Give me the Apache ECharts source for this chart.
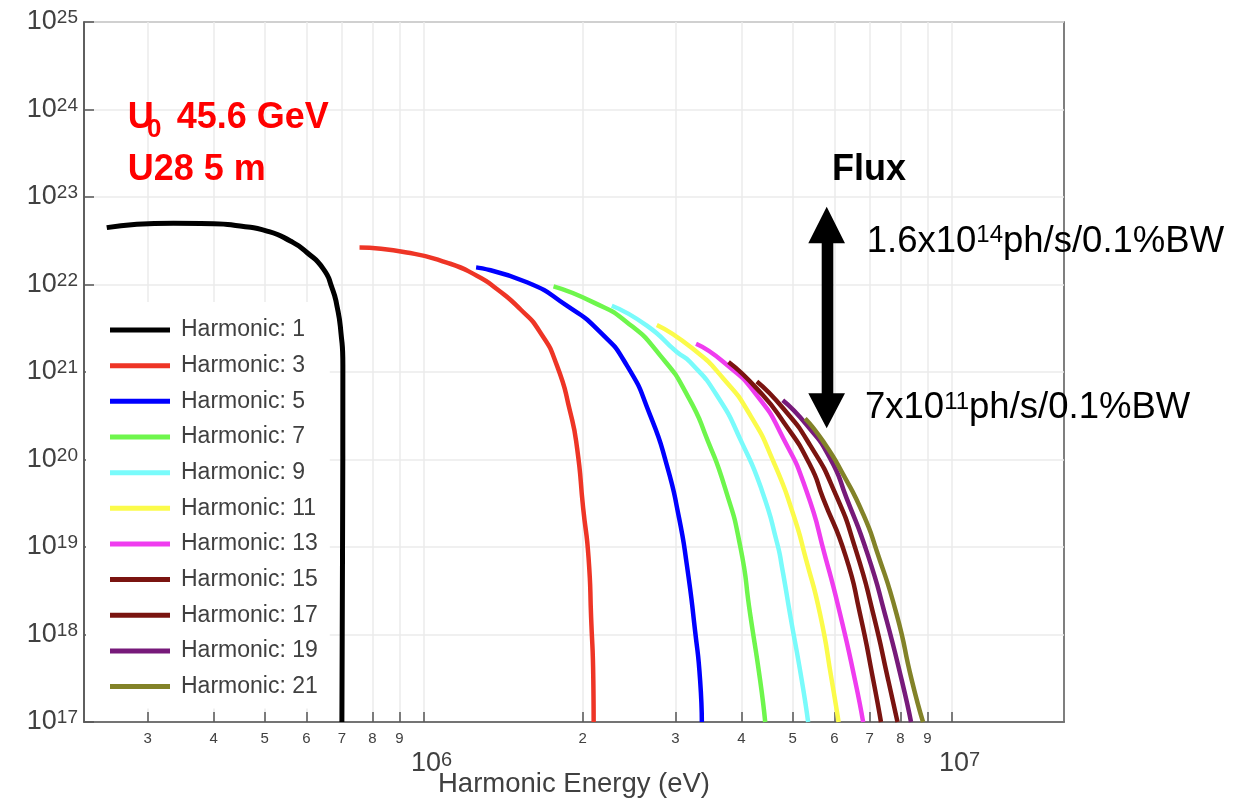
<!DOCTYPE html>
<html>
<head>
<meta charset="utf-8">
<script src="https://cdn.jsdelivr.net/npm/echarts@6/dist/echarts.min.js"></script>
<style>
html, body { margin: 0; padding: 0; background: #fff; }
#chart { width: 1252px; height: 803px; }
</style>
</head>
<body>
<div id="chart"></div>
<script>
"use strict"
// harmonic energy (eV) / flux pairs
const h1E = [2.51e5, 3.36e5, 4.00e5, 4.49e5, 5.05e5, 5.59e5, 6.01e5, 6.46e5, 6.70e5, 6.85e5, 6.97e5, 7.03e5, 7.02e5, 7.00e5];
const h1F = [4.47e22, 5.0e22, 4.96e22, 4.65e22, 4.08e22, 3.14e22, 2.32e22, 1.50e22, 9.27e21, 5.72e21, 2.85e21, 1.19e21, 1e19, 1e17];
const h3E = [7.56e5, 9.29e5, 1.106e6, 1.261e6, 1.376e6, 1.523e6, 1.662e6, 1.788e6, 1.894e6, 1.953e6, 2.005e6, 2.053e6, 2.076e6, 2.096e6, 2.099e6];
const h3F = [2.64e22, 2.32e22, 1.78e22, 1.26e22, 8.87e21, 5.25e21, 2.85e21, 1.19e21, 3.53e20, 1.34e20, 2.79e19, 7.52e18, 1.56e18, 2.97e17, 1e17];
const h5E = [1.257e6, 1.569e6, 1.867e6, 2.160e6, 2.426e6, 2.685e6, 2.888e6, 3.038e6, 3.151e6, 3.267e6, 3.340e6, 3.365e6];
const h5F = [1.57e22, 1.06e22, 5.72e21, 2.85e21, 1.19e21, 3.21e20, 8.65e19, 2.34e19, 6.31e18, 1.10e18, 2.97e17, 1e17];
const h7E = [1.762e6, 2.097e6, 2.426e6, 2.805e6, 3.168e6, 3.458e6, 3.724e6, 3.977e6, 4.155e6, 4.340e6, 4.436e6];
const h7F = [9.51e21, 6.25e21, 3.71e21, 1.55e21, 5.24e20, 1.60e20, 4.70e19, 1.03e19, 1.70e18, 2.97e17, 1e17];
const h9E = [2.272e6, 2.647e6, 3.017e6, 3.197e6, 3.592e6, 4.012e6, 4.377e6, 4.672e6, 4.775e6, 4.944e6, 5.204e6, 5.349e6];
const h9F = [5.72e21, 3.39e21, 1.69e21, 1.30e21, 5.42e20, 1.53e20, 4.35e19, 1.11e19, 5.79e18, 1.70e18, 2.97e17, 1e17];
const h11E = [2.765e6, 3.218e6, 3.698e6, 4.155e6, 4.598e6, 5.016e6, 5.303e6, 5.636e6, 5.931e6, 6.109e6];
const h11F = [3.45e21, 1.89e21, 8.39e20, 3.21e20, 9.46e19, 2.34e19, 7.13e18, 1.70e18, 2.97e17, 1e17];
const h13E = [3.281e6, 3.698e6, 4.277e6, 4.801e6, 5.303e6, 5.772e6, 6.151e6, 6.565e6, 6.799e6];
const h13F = [2.10e21, 1.30e21, 5.42e20, 1.74e20, 4.47e19, 7.52e18, 1.70e18, 2.97e17, 1e17];
const h15E = [3.780e6, 4.277e6, 4.801e6, 5.395e6, 5.708e6, 6.299e6, 6.710e6, 7.11e6, 7.35e6];
const h15F = [1.30e21, 6.46e20, 2.70e20, 8.65e19, 3.62e19, 7.92e18, 1.70e18, 2.97e17, 1e17];
const h17E = [4.277e6, 4.801e6, 5.395e6, 6.018e6, 6.594e6, 7.11e6, 7.59e6, 7.90e6];
const h17F = [7.80e20, 3.83e20, 1.46e20, 4.12e19, 9.03e18, 1.70e18, 2.97e17, 1e17];
const h19E = [4.789e6, 5.319e6, 5.888e6, 6.326e6, 6.950e6, 7.48e6, 8.05e6, 8.38e6];
const h19F = [4.75e20, 2.47e20, 1.03e20, 3.62e19, 7.92e18, 1.70e18, 2.97e17, 1e17];
const h21E = [5.279e6, 5.716e6, 6.239e6, 6.808e6, 7.218e6, 7.87e6, 8.41e6, 8.83e6];
const h21F = [2.94e20, 1.60e20, 6.67e19, 2.34e19, 8.95e18, 1.70e18, 2.97e17, 1e17];

const harmonics = [1, 3, 5, 7, 9, 11, 13, 15, 17, 19, 21];
const energies = [h1E, h3E, h5E, h7E, h9E, h11E, h13E, h15E, h17E, h19E, h21E];
const fluxes = [h1F, h3F, h5F, h7F, h9F, h11F, h13F, h15F, h17F, h19F, h21F];
const colors = ['#000000', '#ee3526', '#0000ff', '#6ef64c', '#79fbfb', '#fbfb4a',
                '#ef3cef', '#7a1410', '#7a1410', '#771a7a', '#828228'];

// minor ticks (2..9 of each decade) and decade ticks
const xMinorTicks = [3e5, 4e5, 5e5, 6e5, 7e5, 8e5, 9e5, 2e6, 3e6, 4e6, 5e6, 6e6, 7e6, 8e6, 9e6];
const xDecadeTicks = [1e6, 1e7];
const xTicks = xMinorTicks.concat(xDecadeTicks).sort(function (a, b) { return a - b; });
const yTicks = [1e17, 1e18, 1e19, 1e20, 1e21, 1e22, 1e23, 1e24, 1e25];

const FONT = '"Liberation Sans", Arial, sans-serif';
const GREY = '#404040';

function pairs(xs, ys) {
    var out = [];
    for (var i = 0; i < xs.length; i++) {
        out.push([xs[i], ys[i]]);
    }
    return out;
}

function minorLabel(v) {
    var e = Math.floor(Math.log10(v) + 1e-9);
    return '' + Math.round(v / Math.pow(10, e));
}

function powLabel(v) {
    return '{b|10}{s|' + Math.round(Math.log10(v)) + '}';
}

var series = [];
for (var i = 0; i < harmonics.length; i++) {
    series.push({
        name: 'Harmonic: ' + harmonics[i],
        type: 'line',
        data: pairs(energies[i], fluxes[i]),
        showSymbol: false,
        smooth: 0.6,
        color: colors[i],
        lineStyle: { width: i === 0 ? 5 : 4.5, color: colors[i] }
    });
}

const chart = echarts.init(document.getElementById('chart'), null, { renderer: 'canvas' });

var axisLineStyle = { color: '#555', width: 1.5 };
var gridLineStyle = { color: '#ebebeb', width: 1.5 };

var option = {
    animation: false,
    backgroundColor: '#fff',
    textStyle: { fontFamily: FONT },
    grid: {
        left: 84, right: 188, top: 22, bottom: 78,
        show: true, borderColor: '#555', borderWidth: 1.5, backgroundColor: 'transparent'
    },
    legend: {
        orient: 'vertical',
        left: 86, top: 302,
        padding: [16, 12, 10, 24],
        backgroundColor: '#fff',
        itemWidth: 60, itemHeight: 5, itemGap: 11.66,
        icon: 'rect',
        textStyle: { fontSize: 23, lineHeight: 24, color: GREY, fontFamily: FONT, padding: [0, 0, 0, 6] },
        data: harmonics.map(function (h) { return 'Harmonic: ' + h; })
    },
    xAxis: [{
        type: 'log',
        min: 2.273e5, max: 1.633e7,
        name: 'Harmonic Energy (eV)',
        nameLocation: 'middle',
        nameGap: 48,
        nameTextStyle: { fontSize: 27.5, color: GREY, fontFamily: FONT },
        axisLine: { show: true, lineStyle: axisLineStyle },
        axisTick: { show: true, inside: true, length: 10, customValues: xTicks, lineStyle: axisLineStyle },
        axisLabel: {
            customValues: xMinorTicks,
            margin: 9,
            fontSize: 15, lineHeight: 16, color: GREY, fontFamily: FONT,
            formatter: minorLabel
        },
        splitLine: { show: true, lineStyle: gridLineStyle }
    }, {
        // decade labels sit lower and larger than the 2..9 labels
        type: 'log',
        min: 2.273e5, max: 1.633e7,
        position: 'bottom',
        axisLine: { show: false },
        axisTick: { show: false, customValues: xDecadeTicks },
        splitLine: { show: false },
        axisLabel: {
            customValues: xDecadeTicks,
            margin: 28,
            showMinLabel: true, showMaxLabel: true,
            formatter: powLabel,
            rich: {
                b: { fontSize: 27, lineHeight: 27, color: GREY, fontFamily: FONT, padding: [0, 0, 0, 16] },
                s: { fontSize: 20, lineHeight: 20, color: GREY, fontFamily: FONT, verticalAlign: 'top' }
            }
        }
    }],
    yAxis: {
        type: 'log',
        min: 1e17, max: 1e25,
        axisLine: { show: true, lineStyle: axisLineStyle },
        axisTick: { show: true, inside: true, length: 10, customValues: yTicks, lineStyle: axisLineStyle },
        axisLabel: {
            customValues: yTicks,
            margin: 6,
            showMinLabel: true, showMaxLabel: true,
            formatter: powLabel,
            rich: {
                b: { fontSize: 27, lineHeight: 27, color: GREY, fontFamily: FONT },
                s: { fontSize: 19, lineHeight: 19, color: GREY, fontFamily: FONT, verticalAlign: 'top' }
            }
        },
        splitLine: { show: true, lineStyle: gridLineStyle }
    },
    graphic: [
        { type: 'text', z: 100, style: { x: 127.7, y: 118.3, text: 'U', font: 'bold 36px ' + FONT, fill: '#ff0000', textVerticalAlign: 'middle' } },
        { type: 'text', z: 100, style: { x: 147, y: 130, text: '0', font: 'bold 26px ' + FONT, fill: '#ff0000', textVerticalAlign: 'middle' } },
        { type: 'text', z: 100, style: { x: 176.7, y: 118.3, text: '45.6 GeV', font: 'bold 36px ' + FONT, fill: '#ff0000', textVerticalAlign: 'middle' } },
        { type: 'text', z: 100, style: { x: 127.7, y: 170.5, text: 'U28 5 m', font: 'bold 36px ' + FONT, fill: '#ff0000', textVerticalAlign: 'middle' } },
        { type: 'text', z: 100, style: { x: 832, y: 170, text: 'Flux', font: 'bold 36px ' + FONT, fill: '#000', textVerticalAlign: 'middle' } },
        {
            type: 'polygon', z: 100,
            shape: { points: [[826.7, 206.7], [845, 243.3], [833.3, 243.3], [833.3, 393.3], [845, 393.3],
                              [826.7, 428.3], [808.3, 393.3], [821.7, 393.3], [821.7, 243.3], [808.3, 243.3]] },
            style: { fill: '#000' }
        },
        {
            type: 'text', z: 100,
            style: {
                x: 866.7, y: 241.7, textVerticalAlign: 'middle',
                text: '{m|1.6x10}{s|14}{m|ph/s/0.1%BW}',
                rich: {
                    m: { fontSize: 36.5, lineHeight: 36, fontFamily: FONT, fill: '#000' },
                    s: { fontSize: 24, lineHeight: 24, fontFamily: FONT, fill: '#000', verticalAlign: 'top' }
                }
            }
        },
        {
            type: 'text', z: 100,
            style: {
                x: 865, y: 408.3, textVerticalAlign: 'middle',
                text: '{m|7x10}{s|11}{m|ph/s/0.1%BW}',
                rich: {
                    m: { fontSize: 36.5, lineHeight: 36, fontFamily: FONT, fill: '#000' },
                    s: { fontSize: 24, lineHeight: 24, fontFamily: FONT, fill: '#000', verticalAlign: 'top' }
                }
            }
        }
    ],
    series: series
};

chart.setOption(option);
</script>
</body>
</html>
